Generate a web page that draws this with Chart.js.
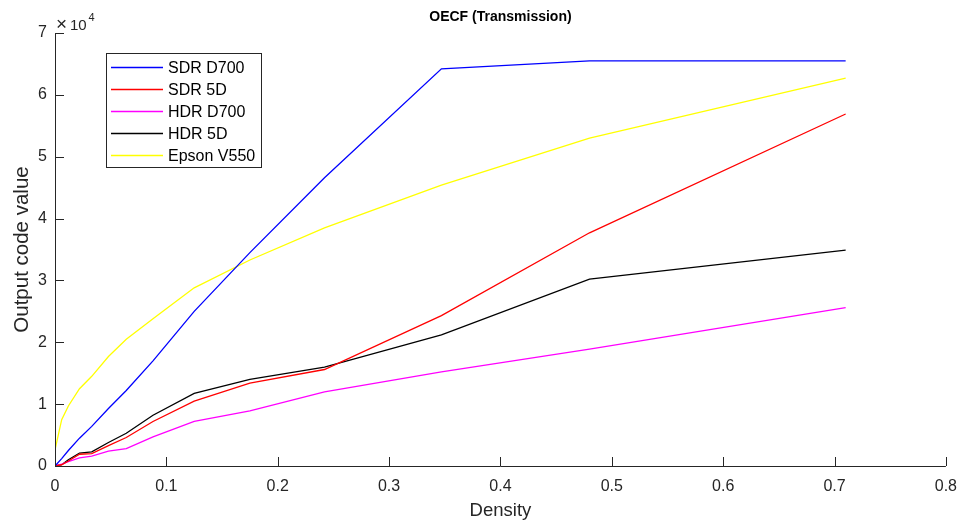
<!DOCTYPE html>
<html>
<head>
<meta charset="utf-8">
<script src="https://cdn.jsdelivr.net/npm/chart.js@4.4.0/dist/chart.umd.min.js"></script>
<style>
  html, body { margin: 0; padding: 0; background: #fff; }
  #wrap { width: 968px; height: 525px; position: relative; }
</style>
</head>
<body>
<div id="wrap"><canvas id="c" width="968" height="525"></canvas></div>
<script>
// ---- data ----
const density = [0, 0.006, 0.012, 0.022, 0.033, 0.048, 0.064, 0.088, 0.125, 0.175, 0.242, 0.347, 0.48, 0.71];
const sdrD700 = [0, 1200, 2500, 4500, 6400, 9300, 12200, 17000, 25000, 34500, 46600, 64200, 65500, 65500];
const sdr5D   = [0, 200, 800, 1900, 2000, 3300, 4600, 7200, 10500, 13400, 15600, 24300, 37700, 56900];
const hdrD700 = [0, 300, 700, 1300, 1600, 2400, 2800, 4700, 7200, 8900, 12000, 15200, 18900, 25600];
const hdr5D   = [0, 200, 1000, 2100, 2300, 3800, 5300, 8200, 11750, 14000, 16000, 21200, 30200, 34900];
const epson   = [2600, 7500, 9700, 12500, 14500, 17700, 20500, 23800, 28800, 33300, 38500, 45400, 53000, 62700];
const seriesNames = ['SDR D700', 'SDR 5D', 'HDR D700', 'HDR 5D', 'Epson V550'];
const seriesColors = ['#0000ff', '#ff0000', '#ff00ff', '#000000', '#ffff00'];
const xTicks = [0, 0.1, 0.2, 0.3, 0.4, 0.5, 0.6, 0.7, 0.8];
const yTicks = [0, 1, 2, 3, 4, 5, 6, 7];
const chartTitle = 'OECF (Transmission)';

const FONT = "'Liberation Sans', Arial, Helvetica, sans-serif";
const AXIS_COLOR = '#262626';

const allSeries = [sdrD700, sdr5D, hdrD700, hdr5D, epson];
const datasets = allSeries.map((s, i) => ({
  label: seriesNames[i],
  data: density.map((d, j) => ({ x: d, y: s[j] })),
  borderColor: seriesColors[i],
  backgroundColor: seriesColors[i],
  borderWidth: 1.3,
  pointRadius: 0,
  tension: 0,
  fill: false
}));

const decorPlugin = {
  id: 'decor',
  afterDraw(chart) {
    const ctx = chart.ctx;
    const ca = chart.chartArea;
    const xs = chart.scales.x, ys = chart.scales.y;
    ctx.save();
    // axes lines
    ctx.strokeStyle = AXIS_COLOR;
    ctx.lineWidth = 1;
    ctx.beginPath();
    ctx.moveTo(Math.round(ca.left) + 0.5, ca.top);
    ctx.lineTo(Math.round(ca.left) + 0.5, Math.round(ca.bottom) + 0.5);
    ctx.lineTo(ca.right, Math.round(ca.bottom) + 0.5);
    ctx.stroke();
    // inward ticks
    const tl = 9;
    ctx.beginPath();
    xTicks.forEach(v => {
      const px = Math.round(xs.getPixelForValue(v)) + 0.5;
      ctx.moveTo(px, ca.bottom);
      ctx.lineTo(px, ca.bottom - tl);
    });
    yTicks.forEach(v => {
      const py = Math.round(ys.getPixelForValue(v * 10000)) + 0.5;
      ctx.moveTo(ca.left, py);
      ctx.lineTo(ca.left + tl, py);
    });
    ctx.stroke();

    // title
    ctx.fillStyle = '#000';
    ctx.font = 'bold 14px ' + FONT;
    ctx.textAlign = 'center';
    ctx.textBaseline = 'middle';
    ctx.fillText(chartTitle, (ca.left + ca.right) / 2, 17);

    // exponent label
    ctx.fillStyle = AXIS_COLOR;
    ctx.textAlign = 'left';
    ctx.textBaseline = 'alphabetic';
    ctx.font = '19px ' + FONT;
    ctx.fillText('\u00d7', 56, 30);
    ctx.font = '15px ' + FONT;
    ctx.fillText('10', 70, 29.5);
    ctx.font = '11px ' + FONT;
    ctx.fillText('4', 88.5, 21);

    // legend
    const lx = 106, ly = 53, lw = 155, lh = 114;
    ctx.fillStyle = '#fff';
    ctx.fillRect(lx, ly, lw, lh);
    ctx.strokeStyle = AXIS_COLOR;
    ctx.lineWidth = 1;
    ctx.strokeRect(lx + 0.5, ly + 0.5, lw, lh);
    ctx.font = '16px ' + FONT;
    ctx.textBaseline = 'middle';
    seriesNames.forEach((name, i) => {
      const y = Math.round(ly + 14 + i * 21.9) + 0.5;
      ctx.strokeStyle = seriesColors[i];
      ctx.lineWidth = 1.3;
      ctx.beginPath();
      ctx.moveTo(111, y);
      ctx.lineTo(163, y);
      ctx.stroke();
      ctx.fillStyle = '#000';
      ctx.fillText(name, 168, y + 1);
    });
    ctx.restore();
  }
};

new Chart(document.getElementById('c'), {
  type: 'line',
  data: { datasets },
  options: {
    responsive: false,
    animation: false,
    devicePixelRatio: 1,
    layout: { padding: { top: 33, right: 18, left: 0, bottom: 0 } },
    plugins: { legend: { display: false }, title: { display: false }, tooltip: { enabled: false } },
    scales: {
      x: {
        type: 'linear',
        min: 0, max: 0.8,
        afterFit(s) { s.height = 59; },
        afterBuildTicks(s) { s.ticks = xTicks.map(v => ({ value: v })); },
        ticks: {
          color: AXIS_COLOR,
          font: { family: FONT, size: 16 },
          padding: 11,
          maxRotation: 0,
          autoSkip: false,
          callback: v => String(Math.round(v * 10) / 10)
        },
        grid: { display: false, drawTicks: false },
        border: { display: false },
        title: { display: true, text: 'Density', color: AXIS_COLOR, font: { family: FONT, size: 18.5 }, padding: { top: 0, bottom: 3 } }
      },
      y: {
        type: 'linear',
        min: 0, max: 70000,
        afterFit(s) { s.width = 55; },
        afterBuildTicks(s) { s.ticks = yTicks.map(v => ({ value: v * 10000 })); },
        ticks: {
          color: AXIS_COLOR,
          font: { family: FONT, size: 16 },
          padding: 8,
          autoSkip: false,
          callback: v => String(Math.round(v / 10000))
        },
        grid: { display: false, drawTicks: false },
        border: { display: false },
        title: { display: true, text: 'Output code value', color: AXIS_COLOR, font: { family: FONT, size: 20.5 }, padding: { top: 10, bottom: 0 } }
      }
    }
  },
  plugins: [decorPlugin]
});
</script>
</body>
</html>
